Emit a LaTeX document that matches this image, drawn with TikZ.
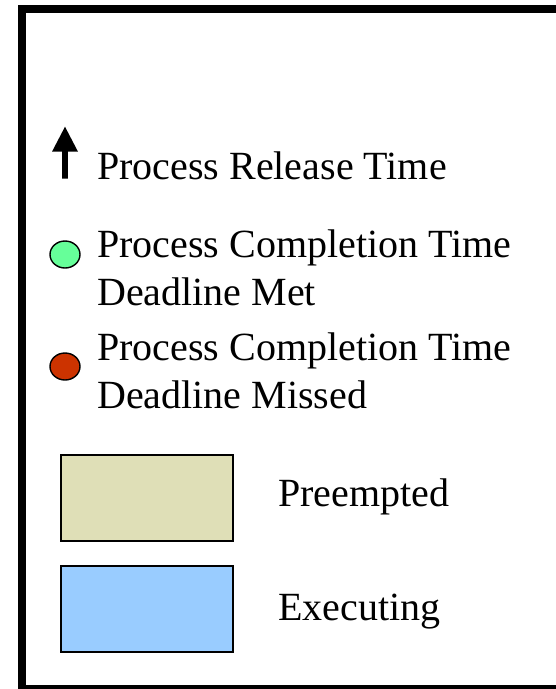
\documentclass[tikz,border=0pt]{standalone}
\usepackage{fontspec}
\setmainfont{Liberation Serif}
\newfontfamily\lserif{Liberation Serif}
\usetikzlibrary{shapes.geometric}
\definecolor{metgreen}{HTML}{66FF99}
\definecolor{missred}{HTML}{CC3300}
\definecolor{preempt}{HTML}{DFDFB7}
\definecolor{execblue}{HTML}{99CCFF}
\tikzset{
  lbl/.style={anchor=base west, inner sep=0pt, font=\lserif\fontsize{40}{48}\selectfont, align=left},
  dot/.style={ellipse, draw=black, line width=1.4pt, minimum width=30pt, minimum height=27pt, inner sep=0pt},
  swatch/.style={rectangle, draw=black, line width=2pt, minimum width=172pt, minimum height=86pt, inner sep=0pt},
}
\begin{document}
\begin{tikzpicture}[x=1pt,y=-1pt]
\useasboundingbox (0,0) rectangle (556,689);
\clip (0,0) rectangle (556,689);
\fill[white] (0,0) rectangle (556,689);
% frame
\draw[line width=7.5pt] (620,8.8) -- (22,8.8) -- (22,688.5) -- (620,688.5);
% release arrow
\fill[black] (65,126.7) -- (78,151.7) -- (67.8,151.7) -- (67.8,178.5) -- (62.2,178.5) -- (62.2,151.7) -- (52,151.7) -- cycle;
\node[lbl] (rel) at (97,179) {Process Release Time};
% completion met
\node[dot, fill=metgreen] (met) at (65,254.5) {};
\node[lbl] (mettxt) at (97,305) {Process Completion Time\\Deadline Met};
% completion missed
\node[dot, fill=missred] (miss) at (65,366.5) {};
\node[lbl] (misstxt) at (97,408.3) {Process Completion Time\\Deadline Missed};
% swatches
\node[swatch, fill=preempt] (pre) at (147,497.5) {};
\node[lbl] (pretxt) at (278,506) {Preempted};
\node[swatch, fill=execblue] (exe) at (147,609) {};
\node[lbl] (exetxt) at (278,620) {Executing};
\end{tikzpicture}
\end{document}
